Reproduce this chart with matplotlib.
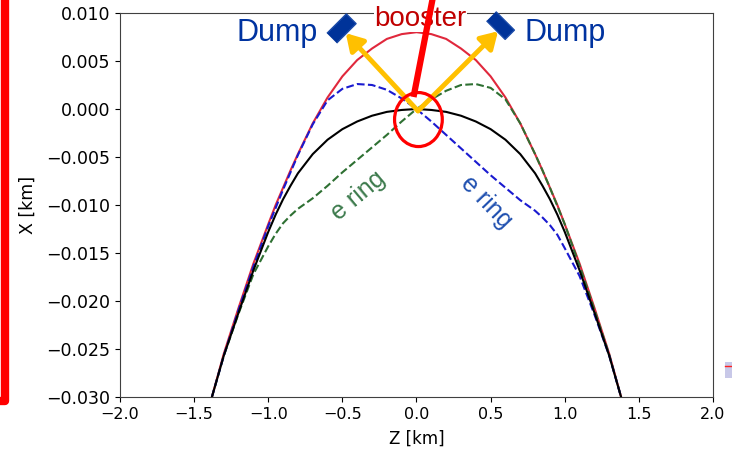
import matplotlib
matplotlib.use('Agg')
import matplotlib.pyplot as plt
from matplotlib.lines import Line2D
from matplotlib.patches import Ellipse, Rectangle
import numpy as np

# orbit shapes (Z in km, X in km)
z = [-1.38, -1.3, -1.2, -1.1, -1.0, -0.95, -0.9, -0.85, -0.8, -0.7, -0.6, -0.5, -0.4, -0.3, -0.2, -0.1,
     0.0, 0.1, 0.2, 0.3, 0.4, 0.5, 0.6, 0.7, 0.8, 0.85, 0.9, 0.95, 1.0, 1.1, 1.2, 1.3, 1.38]

booster_x = [-0.0300, -0.0255, -0.0207, -0.0161, -0.0120, -0.0100, -0.0082, -0.0064, -0.0047,
             -0.0015, 0.0012, 0.0034, 0.0051, 0.0063, 0.0073, 0.0078, 0.0080, 0.0078, 0.0073,
             0.0063, 0.0051, 0.0034, 0.0012, -0.0015, -0.0047, -0.0064, -0.0082, -0.0100,
             -0.0120, -0.0161, -0.0207, -0.0255, -0.0300]

ring_x = [-0.0300, -0.0257, -0.0212, -0.0168, -0.0128, -0.0110, -0.0094, -0.0080, -0.0067,
          -0.0047, -0.0032, -0.0021, -0.0013, -0.0007, -0.0003, -0.0001, 0.0000, -0.0001, -0.0003,
          -0.0007, -0.0013, -0.0021, -0.0032, -0.0047, -0.0067, -0.0080, -0.0094, -0.0110,
          -0.0128, -0.0168, -0.0212, -0.0257, -0.0300]

blue_x = [-0.0300, -0.0257, -0.0209, -0.0164, -0.0122, -0.0103, -0.0084, -0.0066, -0.0048,
          -0.0016, 0.0009, 0.0021, 0.0026, 0.0025, 0.0020, 0.0011, 0.0000, -0.0013, -0.0027,
          -0.0041, -0.0055, -0.0069, -0.0082, -0.0095, -0.0106, -0.0113, -0.0121, -0.0131,
          -0.0145, -0.0174, -0.0214, -0.0257, -0.0300]

green_x = [-0.0300, -0.0257, -0.0213, -0.0172, -0.0143, -0.0130, -0.0119, -0.0111, -0.0104,
           -0.0093, -0.0080, -0.0066, -0.0053, -0.0040, -0.0027, -0.0013, 0.0000, 0.0010, 0.0019,
           0.0025, 0.0026, 0.0022, 0.0010, -0.0015, -0.0047, -0.0064, -0.0082, -0.0101,
           -0.0120, -0.0163, -0.0209, -0.0256, -0.0300]

xticks = [-2.0, -1.5, -1.0, -0.5, 0.0, 0.5, 1.0, 1.5, 2.0]
yticks = [-0.030, -0.025, -0.020, -0.015, -0.010, -0.005, 0.000, 0.005, 0.010]

W, H = 732, 453
fig = plt.figure(figsize=(W / 100, H / 100), dpi=100)
ax = fig.add_axes([120 / W, 1 - 397 / H, (713 - 120) / W, (397 - 13) / H])

ax.plot(z, booster_x, color='#e0283c', lw=1.5)
ax.plot(z, green_x, color='#2e7032', lw=1.5, ls='--')
ax.plot(z, blue_x, color='#1a1ad0', lw=1.5, ls='--')
ax.plot(z, ring_x, color='k', lw=1.5)

ax.set_xlim(-2, 2)
ax.set_ylim(-0.03, 0.01)
ax.set_xticks(xticks)
ax.set_yticks(yticks)
ax.set_xticklabels(['\u2212%.1f' % -t if t < 0 else '%.1f' % t for t in xticks], fontsize=11.5)
ax.set_yticklabels(['\u2212%.3f' % -t if t < 0 else '%.3f' % t for t in yticks], fontsize=12.5)
ax.set_xlabel('Z [km]', fontsize=12, labelpad=6)
ax.set_ylabel('X [km]', fontsize=12.5, labelpad=7)
for s in ax.spines.values():
    s.set_color('#404040')

# annotations drawn on top of the plot
ann = 'Liberation Sans'
for tip in [(-0.477, 0.0079), (0.55, 0.0081)]:
    ax.annotate('', xy=tip, xytext=(0.01, -0.0002),
                arrowprops=dict(arrowstyle='-|>,head_length=0.5,head_width=0.3', lw=3.5,
                                color='#ffc000', shrinkA=0, shrinkB=0, mutation_scale=20),
                annotation_clip=False, zorder=4)

ax.add_patch(Ellipse((0.013, -0.0011), 0.322, 0.005625, fill=False, ec='#ff0000',
                     lw=2.3, zorder=5, clip_on=False))

ax.text(0.027, 0.0094, 'booster', fontsize=20, color='#c00000', family=ann,
        ha='center', va='center', zorder=5,
        bbox=dict(facecolor='white', edgecolor='none', pad=0))
ax.plot([-0.02, 0.114], [0.00125, 0.0119], color='#ff0000', lw=4.5,
        solid_capstyle='butt', clip_on=False, zorder=6)

ax.text(-0.94, 0.00708, 'Dump', fontsize=22, color='#0033a0', family=ann,
        ha='center', va='baseline', zorder=5)
ax.text(1.0, 0.00708, 'Dump', fontsize=22, color='#0033a0', family=ann,
        ha='center', va='baseline', zorder=5)

r = np.array([[-1, -0.5], [1, -0.5], [1, 0.5], [-1, 0.5]])
def rot(a):
    c, s = np.cos(np.radians(a)), np.sin(np.radians(a))
    return [(x * c - y * s, x * s + y * c) for x, y in r]
ax.plot([-0.51], [0.00844], marker=rot(45), ms=21, color='#003399', mec='#1a4aa8',
        ls='none', clip_on=False, zorder=6)
ax.plot([0.564], [0.00875], marker=rot(-45), ms=20, color='#003399', mec='#1a4aa8',
        ls='none', clip_on=False, zorder=6)

ax.text(-0.39, -0.0090, 'e ring', fontsize=18, color='#3c7a4c', family=ann,
        rotation=40, ha='center', va='center', rotation_mode='anchor', zorder=5)
ax.text(0.47, -0.0097, 'e ring', fontsize=18, color='#2050b0', family=ann,
        rotation=-46, ha='center', va='center', rotation_mode='anchor', zorder=5)

# thick red frame edge on the left
fig.add_artist(Line2D([5 / W, 5 / W, -10 / W], [1 + 10 / H, 1 - 401 / H, 1 - 401 / H],
                      color='#ff0000', lw=6, solid_joinstyle='round'))
# cut-off fragment at right edge
fig.add_artist(Rectangle((725 / W, 1 - 378 / H), 10 / W, 16 / H, color='#c8c8e8', lw=0))
fig.add_artist(Line2D([725 / W, 1], [1 - 366 / H, 1 - 366 / H], color='#ff2020', lw=1))

fig.savefig('out.png', dpi=100)
